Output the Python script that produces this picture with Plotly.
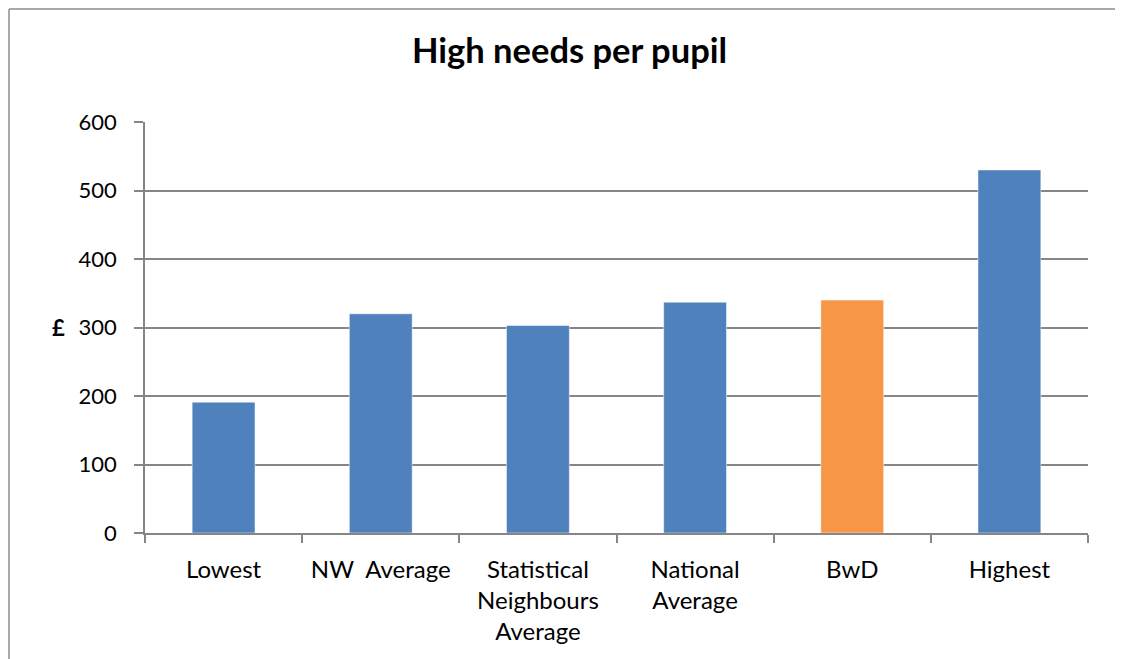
import plotly.graph_objects as go

categories = ["Lowest", "NW\u00a0\u00a0Average", "Statistical<br>Neighbours<br>Average", "National<br>Average", "BwD", "Highest"]
values = [191, 320, 303, 337, 340, 530]
colors = ["#4F81BD", "#4F81BD", "#4F81BD", "#4F81BD", "#F79646", "#4F81BD"]

grid = "#868686"
font_family = "Lato, Carlito, Calibri, sans-serif"

fig = go.Figure(go.Bar(
    x=categories, y=values,
    marker=dict(color=colors, line=dict(color="rgba(255,255,255,0.5)", width=1)),
    width=0.4,
))

bx0 = (1 - 137) / 943
bx1 = 1 + (1120 - 1088) / 943
by1 = 1 + 113 / 411
border = dict(color="#8c8c8c", width=1.5)

fig.update_layout(
    width=1123, height=659,
    margin=dict(l=137, r=43, t=114, b=134),
    paper_bgcolor="white", plot_bgcolor="white",
    showlegend=False,
    font=dict(family=font_family, size=22, color="black"),
    title=dict(text="<b>High needs per pupil</b>", x=561.5 / 1123, xanchor="center",
               y=1 - 43 / 659, yanchor="middle", yref="container",
               font=dict(size=34.5, family=font_family, color="black")),
    xaxis=dict(showline=True, linecolor=grid, linewidth=1.5, ticks="outside",
               tickson="boundaries", ticklen=8, tickcolor=grid, tickwidth=1.5,
               showgrid=False, tickangle=0, ticklabelstandoff=14,
               tickfont=dict(size=24, family=font_family, color="black")),
    yaxis=dict(range=[0, 600], dtick=100, showline=True, linecolor=grid, linewidth=1.5,
               ticks="outside", ticklen=9, tickcolor=grid, tickwidth=1.5,
               showgrid=True, gridcolor=grid, gridwidth=1.5, zeroline=False,
               ticklabelstandoff=13,
               tickfont=dict(size=22, family=font_family, color="black")),
    shapes=[
        dict(type="line", xref="paper", yref="paper", x0=bx0, x1=bx1, y0=by1, y1=by1,
             line=border, layer="below"),
        dict(type="line", xref="paper", yref="paper", x0=bx0, x1=bx0, y0=-0.6, y1=by1,
             line=border, layer="below"),
    ],
    annotations=[dict(text="<b>£</b>", xref="paper", yref="y", x=(58 - 145) / 943, y=300,
                      showarrow=False, font=dict(size=22, family=font_family, color="black"),
                      xanchor="center", yanchor="middle")],
)

fig.write_html("out.html")
